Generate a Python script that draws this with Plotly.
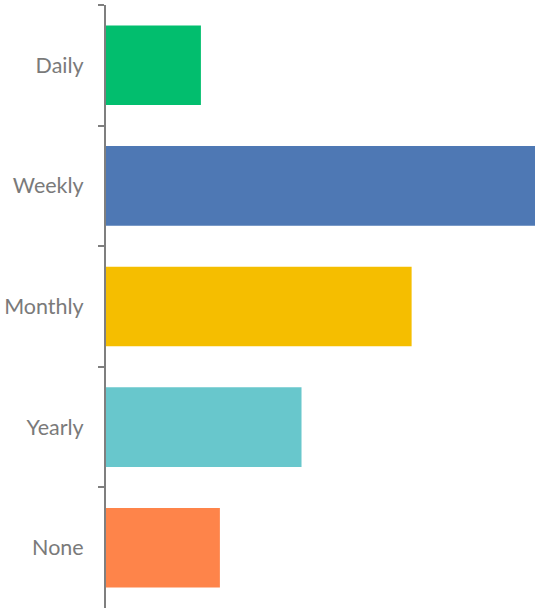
import plotly.graph_objects as go

categories = ["Daily", "Weekly", "Monthly", "Yearly", "None"]
values = [5.0, 24.0, 16.1, 10.3, 6.0]
colors = ["#02BE6E", "#4E78B4", "#F5BE00", "#68C7CC", "#FE844A"]

fig = go.Figure(go.Bar(
    y=categories, x=values, orientation="h",
    marker=dict(color=colors, line=dict(width=0)),
    width=0.66,
))

fig.update_layout(
    width=535, height=611,
    margin=dict(l=106, r=0, t=5, b=3),
    paper_bgcolor="white", plot_bgcolor="white",
    showlegend=False,
    font=dict(family="Lato, Calibri, sans-serif", size=21.5, color="#7A7A7A"),
)
fig.update_xaxes(range=[0, 22.6], visible=False, showgrid=False, zeroline=False)
fig.update_yaxes(
    autorange="reversed",
    showline=True, linecolor="#7F7F7F", linewidth=2,
    ticks="outside", tickson="boundaries", ticklen=6, tickwidth=1.5, tickcolor="#7F7F7F",
    ticklabelstandoff=16,
    showgrid=False, zeroline=False,
)

fig.write_html("out.html", config={"displayModeBar": False},
               post_script="document.body.style.margin='0';")
